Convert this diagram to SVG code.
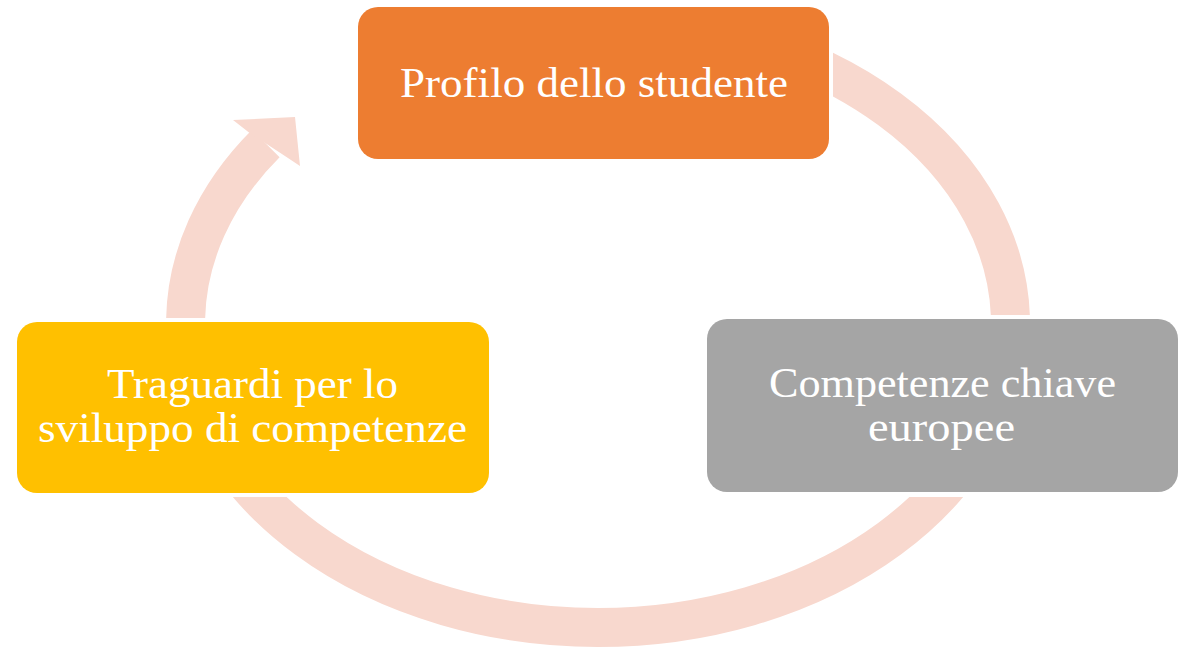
<svg xmlns="http://www.w3.org/2000/svg" width="1180" height="648" viewBox="0 0 1180 648">
  <style>
    .band { fill: none; stroke: #F8D8CE; stroke-width: 39; stroke-linecap: butt; }
    .head { fill: #F8D8CE; }
    .lbl { font-family: "Liberation Serif", "Times New Roman", serif; font-size: 43px; fill: #FFFFFF; text-anchor: middle; }
  </style>
  <defs>
    <clipPath id="clipRight">
      <rect x="833" y="0" width="347" height="315"/>
    </clipPath>
    <clipPath id="clipBottom">
      <rect x="0" y="497" width="1180" height="151"/>
    </clipPath>
    <clipPath id="clipLeft">
      <rect x="0" y="0" width="597" height="318"/>
    </clipPath>
  </defs>
  <g id="connectors">
    <ellipse class="band" cx="598" cy="324" rx="412.5" ry="303.5" clip-path="url(#clipRight)"/>
    <ellipse class="band" cx="598" cy="324" rx="412.5" ry="303.5" clip-path="url(#clipBottom)"/>
    <path class="band" d="M 185.6 322 A 412.5 303.5 0 0 1 265.8 143.5" clip-path="url(#clipLeft)"/>
    <polygon class="head" points="233,120 295,117 300,166 282.3,154.3 249.3,132.7"/>
  </g>
  <g id="node-profilo">
    <rect x="358" y="7" width="471" height="152" rx="20" ry="20" fill="#ED7D31"/>
    <text class="lbl" x="594" y="97" textLength="388" lengthAdjust="spacingAndGlyphs">Profilo dello studente</text>
  </g>
  <g id="node-competenze">
    <rect x="707" y="319" width="471" height="173" rx="20" ry="20" fill="#A5A5A5"/>
    <text class="lbl" x="942.5" y="397" textLength="347" lengthAdjust="spacingAndGlyphs">Competenze chiave</text>
    <text class="lbl" x="941.5" y="441" textLength="147" lengthAdjust="spacingAndGlyphs">europee</text>
  </g>
  <g id="node-traguardi">
    <rect x="17" y="322" width="472" height="171" rx="20" ry="20" fill="#FFC000"/>
    <text class="lbl" x="252.5" y="398" textLength="291" lengthAdjust="spacingAndGlyphs">Traguardi per lo</text>
    <text class="lbl" x="252.5" y="442" textLength="429" lengthAdjust="spacingAndGlyphs">sviluppo di competenze</text>
  </g>
</svg>
